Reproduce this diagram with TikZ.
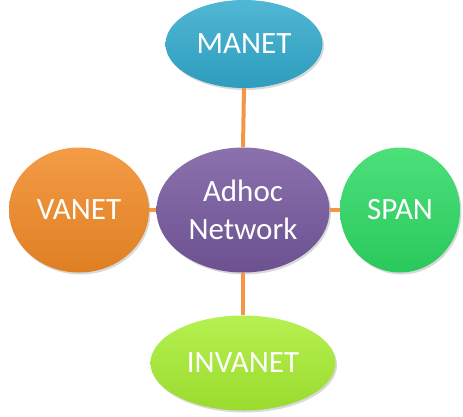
\documentclass[tikz,border=0pt]{standalone}
\usepackage{fontspec}
\setmainfont{Carlito}
\usetikzlibrary{shapes, shadows, positioning}
\definecolor{manetblue}{RGB}{50, 170, 205}
\definecolor{vanetorange}{RGB}{242, 138, 38}
\definecolor{adhocviolet}{RGB}{118, 88, 158}
\definecolor{spangreen}{RGB}{45, 218, 100}
\definecolor{invanetlime}{RGB}{168, 238, 50}
\definecolor{linkorange}{RGB}{245, 150, 70}

\begin{document}
\begin{tikzpicture}[x=1pt, y=-1pt,
  bubble/.style={ellipse, inner sep=0pt, text=white, align=center,
    font=\fontsize{31}{38}\selectfont,
    drop shadow={shadow xshift=1.5pt, shadow yshift=-2pt, opacity=0.3}},
  link/.style={draw=linkorange, line width=4pt}
]
  \useasboundingbox (0,0) rectangle (463,416);

  \node[bubble, minimum width=173pt, minimum height=125pt,
    top color=adhocviolet!85!white, bottom color=adhocviolet!92!black]
    (adhoc) at (243, 210) {Adhoc\\Network};
  \node[bubble, minimum width=157pt, minimum height=88pt,
    top color=manetblue!85!white, bottom color=manetblue!92!black]
    (manet) at (244, 44) {MANET};
  \node[bubble, minimum width=140pt, minimum height=125pt,
    top color=vanetorange!85!white, bottom color=vanetorange!92!black]
    (vanet) at (79, 210) {VANET};
  \node[bubble, minimum width=120pt, minimum height=125pt,
    top color=spangreen!85!white, bottom color=spangreen!92!black]
    (span) at (400, 210) {SPAN};
  \node[bubble, minimum width=185pt, minimum height=95pt,
    top color=invanetlime!85!white, bottom color=invanetlime!92!black]
    (invanet) at (243, 363) {INVANET};

  \draw[link] (manet.south) -- (adhoc.north);
  \draw[link] (vanet.east) -- (adhoc.west);
  \draw[link] (adhoc.east) -- (span.west);
  \draw[link] (adhoc.south) -- (invanet.north);
\end{tikzpicture}
\end{document}
